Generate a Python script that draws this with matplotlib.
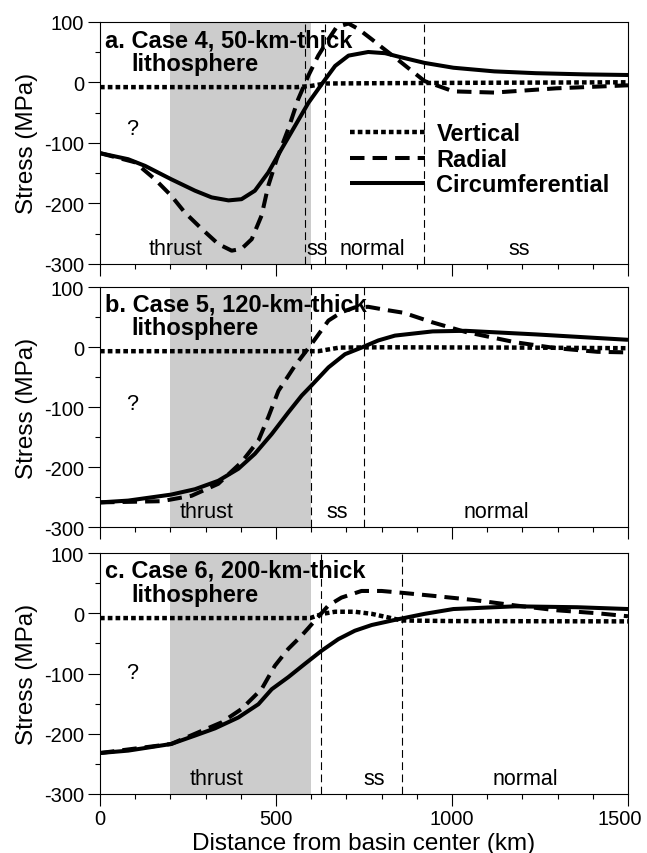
import matplotlib
matplotlib.use("Agg")
import matplotlib.pyplot as plt
from matplotlib.ticker import MultipleLocator, FixedLocator
from matplotlib.transforms import ScaledTranslation

plt.rcParams['font.family'] = ['Liberation Sans', 'DejaVu Sans']
plt.rcParams['axes.unicode_minus'] = False

# ---------------- data ----------------
panel_titles = ["a. Case 4, 50-km-thick", "b. Case 5, 120-km-thick", "c. Case 6, 200-km-thick"]
title_line2 = "lithosphere"
series_names = ["Vertical", "Radial", "Circumferential"]

thrust_zone = [200, 600]

# panel a
xa_vert = [0, 560, 600, 640, 800, 1000, 1500]
ya_vert = [-8, -8, -6, -2, -1.5, -1, 0]
xa_rad = [0, 99, 156, 202, 241, 289, 336, 374, 402, 431, 459, 478, 502, 535, 563, 592, 620,
          649, 672, 706, 734, 772, 800, 851, 922, 1004, 1120, 1296, 1500]
ya_rad = [-117, -132, -160, -187, -215, -242, -267, -278, -275, -259, -220, -171, -127, -77, -28, 11, 44,
          71, 91, 97, 88, 71, 58, 35, 2, -15, -17, -10, -5]
xa_circ = [0, 80, 128, 202, 270, 317, 365, 402, 440, 478, 516, 554, 592, 630, 668, 706, 762, 810,
           850, 922, 1004, 1120, 1238, 1380, 1500]
ya_circ = [-117, -127, -138, -160, -179, -190, -195, -193, -179, -149, -110, -72, -34, -3, 27, 44, 50, 48,
           42, 32, 24, 18, 15, 13, 12]

# panel b
xb_vert = [0, 620, 680, 800, 1200, 1500]
yb_vert = [-7, -7, -1, -0.5, -1, -2]
xb_rad = [0, 175, 260, 336, 402, 450, 478, 507, 554, 601, 649, 686, 724, 762, 810, 863, 945, 1039,
          1179, 1296, 1413, 1500]
yb_rad = [-259, -257, -248, -228, -192, -156, -117, -73, -31, 5, 44, 58, 66, 67, 62, 57, 41, 25,
          8, -2, -8, -9]
xb_circ = [0, 80, 202, 270, 336, 393, 440, 488, 535, 573, 601, 649, 696, 743, 791, 838, 945, 1039,
           1238, 1500]
yb_circ = [-259, -256, -246, -237, -223, -203, -178, -145, -109, -81, -64, -34, -12, -1, 11, 19, 26, 27,
           21, 12]

# panel c
xc_vert = [0, 597, 632, 668, 724, 772, 819, 857, 1000, 1500]
yc_vert = [-8, -8, -1, 2.5, 2.5, -1, -7, -12, -13, -13.5]
xc_rad = [0, 202, 270, 346, 402, 459, 497, 535, 573, 611, 649, 686, 743, 800, 857, 945, 1062, 1179,
          1296, 1413, 1500]
yc_rad = [-232, -217, -200, -181, -159, -126, -87, -59, -37, -12, 13, 26, 37, 37, 34, 29, 22, 13,
          5, 0, -5]
xc_circ = [0, 80, 202, 270, 327, 393, 450, 488, 535, 582, 630, 677, 724, 772, 838, 922, 1004, 1179,
           1355, 1500]
yc_circ = [-232, -228, -217, -203, -191, -173, -151, -126, -106, -84, -62, -43, -29, -19.5, -11, -1, 7, 11.5,
           10, 7]

boundaries_a = [582, 640, 920]
boundaries_b = [600, 750]
boundaries_c = [627, 857]

zones_a = [("thrust", 216), ("ss", 616), ("normal", 775), ("ss", 1191)]
zones_b = [("thrust", 303), ("ss", 673), ("normal", 1127)]
zones_c = [("thrust", 330), ("ss", 778), ("normal", 1209)]

question_y = [-76, -95, -98]

x_ticks = [0, 500, 1000, 1500]
y_ticks = [-300, -200, -100, 0, 100]

panels = [
    (xa_vert, ya_vert, xa_rad, ya_rad, xa_circ, ya_circ, boundaries_a, zones_a),
    (xb_vert, yb_vert, xb_rad, yb_rad, xb_circ, yb_circ, boundaries_b, zones_b),
    (xc_vert, yc_vert, xc_rad, yc_rad, xc_circ, yc_circ, boundaries_c, zones_c),
]

# ---------------- figure ----------------
W, H = 647, 854
fig = plt.figure(figsize=(W / 100, H / 100), dpi=100)
left_px, right_px = 100, 628
tops = [22.7, 288, 554]
bottoms = [265, 528, 795]

LW = 2.9
for i, (xv, yv, xr, yr, xc, yc, bnds, zones) in enumerate(panels):
    ax = fig.add_axes([left_px / W, 1 - bottoms[i] / H, (right_px - left_px) / W,
                       (bottoms[i] - tops[i]) / H])
    ax.set_xlim(0, 1500)
    ax.set_ylim(-300, 100)
    ax.axvspan(thrust_zone[0], thrust_zone[1], color='#cccccc', lw=0, zorder=0)
    for b in bnds:
        ax.axvline(b, color='black', lw=0.8, dashes=(7, 4), zorder=1)
    ax.plot(xv, yv, color='black', lw=3.2, dashes=(1.05, 0.7), dash_capstyle='butt',
            label=series_names[0], zorder=3)
    ax.plot(xr, yr, color='black', lw=LW, dashes=(3.6, 2.0), dash_capstyle='butt',
            label=series_names[1], zorder=3)
    ax.plot(xc, yc, color='black', lw=LW, solid_capstyle='butt', solid_joinstyle='round',
            label=series_names[2], zorder=4)

    ax.text(14, 59 if i == 0 else 60.5, panel_titles[i], fontsize=17, fontweight='bold',
            ha='left', va='baseline', zorder=5)
    ax.text(90, 21, title_line2, fontsize=17, fontweight='bold', ha='left', va='baseline', zorder=5)
    ax.text(92, question_y[i], "?", fontsize=15.5, ha='center', va='center')
    for name, xpos in zones:
        ax.text(xpos, -284, name, fontsize=15.5, ha='center', va='baseline')

    ax.xaxis.set_major_locator(FixedLocator(x_ticks))
    ax.xaxis.set_minor_locator(MultipleLocator(100))
    ax.yaxis.set_major_locator(FixedLocator(y_ticks))
    ax.yaxis.set_minor_locator(MultipleLocator(50))
    ax.tick_params(which='major', direction='out', length=8.6, width=0.8, labelsize=14.5, pad=2)
    ax.tick_params(which='minor', direction='out', length=3.6, width=0.8)
    ax.tick_params(axis='y', which='major', pad=3)
    for sp in ax.spines.values():
        sp.set_linewidth(0.8)
    ax.set_ylabel("Stress (MPa)", fontsize=17.5, labelpad=4)
    if i < 2:
        ax.tick_params(axis='x', labelbottom=False)
    else:
        ax.set_xticklabels([str(t) for t in x_ticks])
        ax.set_xlabel("Distance from basin center (km)", fontsize=17.5, labelpad=3)
        last = ax.get_xticklabels()[-1]
        last.set_transform(last.get_transform() + ScaledTranslation(-8 / 100, 0, fig.dpi_scale_trans))
    ax.set_yticklabels([str(t) for t in y_ticks])

    if i == 0:
        leg = ax.legend(loc='upper left', bbox_to_anchor=(0.474, 0.584), frameon=False,
                        prop={'weight': 'bold', 'size': 17},
                        handlelength=3.15, handletextpad=0.5, labelspacing=0.1,
                        borderpad=0, borderaxespad=0)

fig.savefig("out.png", dpi=100)
